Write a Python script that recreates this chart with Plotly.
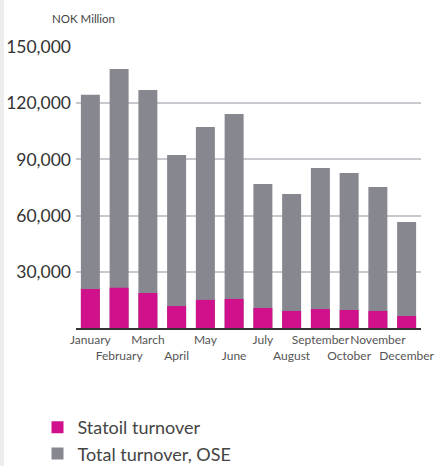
import plotly.graph_objects as go

months = ["January", "February", "March", "April", "May", "June",
          "July", "August", "September", "October", "November", "December"]
total_ose = [124500, 138300, 127100, 92400, 107300, 114300,
             76900, 71500, 85400, 82800, 75300, 56600]
statoil = [20800, 21500, 18700, 11700, 15000, 15500,
           10700, 9100, 10100, 9600, 9100, 6400]
y_ticks = [30000, 60000, 90000, 120000, 150000]
y_tick_labels = ["30,000", "60,000", "90,000", "120,000", "150,000"]

# alternate tick labels on two rows
tick_text = [m if i % 2 == 0 else "<br>" + m for i, m in enumerate(months)]

PINK = "#D1108C"
GREY = "#86878F"

fig = go.Figure()
fig.add_trace(go.Bar(x=months, y=total_ose, name="Total turnover, OSE",
                     marker=dict(color=GREY, line=dict(width=0)), legendrank=2))
fig.add_trace(go.Bar(x=months, y=statoil, name="Statoil turnover",
                     marker=dict(color=PINK, line=dict(width=0)), legendrank=1))

L, R, T, B = 76, 17, 47, 138
W, H = 438, 466
pw = W - L - R
ph = H - T - B

fig.update_layout(
    width=W, height=H,
    margin=dict(l=L, r=R, t=T, b=B, pad=0, autoexpand=False),
    barmode="overlay", bargap=0.34,
    plot_bgcolor="white", paper_bgcolor="white",
    font=dict(family="Lato, sans-serif", color="#3a3a3a"),
    showlegend=True,
    legend=dict(orientation="v", x=(37.5 - L) / pw, xanchor="left",
                y=(328 - 409) / ph, yanchor="top",
                font=dict(size=18, color="#444"), tracegroupgap=0,
                itemsizing="constant", bgcolor="rgba(0,0,0,0)"),
    xaxis=dict(tickmode="array", tickvals=months, ticktext=tick_text,
               tickangle=0, automargin=False,
               tickfont=dict(size=12, color="#555"), showgrid=False,
               showline=True, linecolor="#333", linewidth=1.5,
               ticks="", fixedrange=True),
    yaxis=dict(range=[0, 150000], tickmode="array", tickvals=y_ticks,
               ticktext=y_tick_labels, tickfont=dict(size=17.5, color="#333"),
               showgrid=True, gridcolor="#C8C8CE", gridwidth=1.5,
               zeroline=False, showline=False, ticks="", automargin=False,
               ticklabelstandoff=4, fixedrange=True),
    annotations=[dict(text="NOK Million", xref="paper", yref="paper",
                      x=(50 - L) / pw, y=(328 - 18) / ph, xanchor="left",
                      yanchor="middle", showarrow=False,
                      font=dict(size=11.5, color="#444"))],
    shapes=[dict(type="rect", xref="paper", yref="paper",
                 x0=-L / pw, x1=(4 - L) / pw, y0=-B / ph, y1=(ph + T) / ph,
                 fillcolor="#EDEDED", line=dict(width=0), layer="below")],
)

fig.write_html("out.html", config={"displayModeBar": False},
               post_script="document.body.style.margin='0';document.body.style.overflow='hidden';")
